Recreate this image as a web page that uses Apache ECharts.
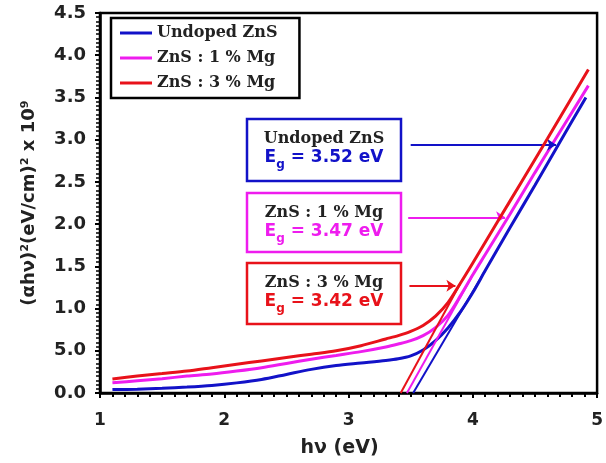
<!DOCTYPE html>
<html>
<head>
<meta charset="utf-8">
<script src="https://cdn.jsdelivr.net/npm/echarts@6/dist/echarts.min.js"></script>
<style>
  html, body { margin: 0; padding: 0; background: #fff; }
  #chart { width: 606px; height: 463px; }
</style>
</head>
<body>
<div id="chart"></div>
<script>
// Tauc plot of ZnS films: (alpha*h*nu)^2 against photon energy h*nu
const sampleNames = ['Undoped ZnS', 'ZnS : 1 % Mg', 'ZnS : 3 % Mg'];
const sampleColors = ['#1212c8', '#ee1cee', '#e8121a'];
const bandGaps = [3.52, 3.47, 3.42];

// [h*nu (eV), (alpha*h*nu)^2 x 1e9]
const undopedCurve = [
  [1.1, 0.04], [1.3, 0.045], [1.5, 0.055], [1.7, 0.07], [1.9, 0.09], [2.1, 0.12],
  [2.3, 0.16], [2.5, 0.22], [2.7, 0.28], [2.9, 0.325], [3.1, 0.355], [3.3, 0.385],
  [3.4, 0.405], [3.5, 0.44], [3.6, 0.51], [3.7, 0.62], [3.8, 0.77], [3.9, 0.96],
  [4.0, 1.19], [4.1, 1.45], [4.3, 1.96], [4.5, 2.46], [4.7, 2.97], [4.91, 3.50]
];
const mg1Curve = [
  [1.1, 0.12], [1.3, 0.145], [1.5, 0.17], [1.7, 0.20], [1.9, 0.225], [2.1, 0.26],
  [2.3, 0.30], [2.5, 0.35], [2.7, 0.40], [2.9, 0.445], [3.1, 0.49], [3.3, 0.545],
  [3.4, 0.58], [3.5, 0.62], [3.6, 0.68], [3.7, 0.775], [3.8, 0.92], [3.9, 1.15],
  [4.0, 1.40], [4.1, 1.64], [4.3, 2.12], [4.5, 2.61], [4.7, 3.09], [4.93, 3.64]
];
const mg3Curve = [
  [1.1, 0.166], [1.3, 0.20], [1.5, 0.23], [1.7, 0.26], [1.9, 0.30], [2.1, 0.34],
  [2.3, 0.38], [2.5, 0.42], [2.7, 0.46], [2.9, 0.50], [3.1, 0.56], [3.3, 0.64],
  [3.4, 0.68], [3.5, 0.73], [3.6, 0.80], [3.7, 0.91], [3.8, 1.07], [3.9, 1.30],
  [4.0, 1.54], [4.2, 2.03], [4.4, 2.52], [4.6, 3.01], [4.93, 3.83]
];
const sampleCurves = [undopedCurve, mg1Curve, mg3Curve];

// upper end of each extrapolated straight line (lower end sits on the band gap)
const tangentTops = [[4.1, 1.45], [4.0, 1.40], [3.9, 1.30]];

// pointer arrows from the band-gap boxes to each curve (data units)
const arrowLevels = [2.94, 2.08, 1.27];
const arrowStartX = [3.50, 3.48, 3.49];
const arrowEndX = [4.67, 4.26, 3.86];

const yTickLabels = ['0.0', '5.0', '1.0', '1.5', '2.0', '2.5', '3.0', '3.5', '4.0', '4.5'];
const boxTitles = ['Undoped ZnS', 'ZnS : 1 % Mg', 'ZnS : 3 % Mg'];

const chart = echarts.init(document.getElementById('chart'), null, { renderer: 'canvas' });

const axisFont = { fontFamily: 'DejaVu Sans', fontWeight: 'bold', color: '#222' };

const series = [];
sampleCurves.forEach((curve, i) => {
  series.push({
    type: 'line',
    name: sampleNames[i],
    data: curve,
    symbol: 'none',
    smooth: 0.3,
    color: sampleColors[i],
    lineStyle: { color: sampleColors[i], width: 3 },
    z: 3 + i
  });
});
bandGaps.forEach((eg, i) => {
  series.push({
    type: 'line',
    name: 'fit-' + i,
    data: [[eg, 0], tangentTops[i]],
    symbol: 'none',
    color: sampleColors[i],
    lineStyle: { color: sampleColors[i], width: 2 },
    z: 6,
    markLine: {
      silent: true,
      symbol: ['none', 'arrow'],
      symbolSize: 9,
      label: { show: false },
      lineStyle: { color: sampleColors[i], width: 2, type: 'solid' },
      data: [[
        { coord: [arrowStartX[i], arrowLevels[i]] },
        { coord: [arrowEndX[i], arrowLevels[i]] }
      ]]
    }
  });
});

// band-gap annotation boxes
const boxTops = [119, 193, 263];
const boxHeights = [62, 59, 61];
const graphics = [];
boxTitles.forEach((title, i) => {
  const top = boxTops[i];
  graphics.push({
    type: 'rect',
    shape: { x: 247, y: top, width: 154, height: boxHeights[i] },
    style: { fill: '#fff', stroke: sampleColors[i], lineWidth: 2.5 },
    z: 20
  });
  graphics.push({
    type: 'text',
    x: 324, y: top + 20,
    style: {
      text: title,
      font: 'bold 16px "DejaVu Serif"',
      fill: '#222',
      align: 'center', verticalAlign: 'middle',
      textAlign: 'center', textVerticalAlign: 'middle'
    },
    z: 21
  });
  graphics.push({
    type: 'text',
    x: 324, y: top + 30,
    style: {
      text: '{e|E}{s|g}{e| = ' + bandGaps[i].toFixed(2) + ' eV}',
      align: 'center', verticalAlign: 'top',
      textAlign: 'center', textVerticalAlign: 'top',
      rich: {
        e: { font: 'bold 17px "DejaVu Sans"', fill: sampleColors[i], lineHeight: 22, verticalAlign: 'top' },
        s: { font: 'bold 12px "DejaVu Sans"', fill: sampleColors[i], lineHeight: 10, verticalAlign: 'bottom' }
      }
    },
    z: 21
  });
});

chart.setOption({
  animation: false,
  backgroundColor: '#fff',
  grid: {
    left: 100, right: 3, top: 13, bottom: 62,
    show: true, borderColor: '#000', borderWidth: 2.5, backgroundColor: 'transparent'
  },
  legend: {
    data: sampleNames,
    orient: 'vertical',
    left: 111, top: 18,
    icon: 'rect',
    itemWidth: 32, itemHeight: 3,
    itemGap: 7,
    padding: [6, 22, 6, 9],
    backgroundColor: '#fff',
    borderColor: '#000', borderWidth: 2.5,
    textStyle: { fontFamily: 'DejaVu Serif', fontWeight: 'bold', fontSize: 16, color: '#222', lineHeight: 18 }
  },
  xAxis: {
    type: 'value',
    min: 1, max: 5, interval: 1,
    name: 'hν (eV)',
    nameLocation: 'middle',
    nameGap: 46,
    nameTextStyle: Object.assign({ fontSize: 19, padding: [0, 18, 0, 0] }, axisFont),
    axisLine: { show: true, onZero: false, lineStyle: { color: '#000', width: 2.5 } },
    axisTick: { show: true, inside: false, length: 5, lineStyle: { color: '#000', width: 2 } },
    minorTick: { show: true, splitNumber: 10, length: 4, lineStyle: { color: '#000', width: 2 } },
    splitLine: { show: false },
    minorSplitLine: { show: false },
    axisLabel: Object.assign({ fontSize: 17, margin: 19 }, axisFont)
  },
  yAxis: {
    type: 'value',
    min: 0, max: 4.5, interval: 0.5,
    name: '(αhν)²(eV/cm)² x 10⁹',
    nameLocation: 'middle',
    nameGap: 62,
    nameTextStyle: Object.assign({ fontSize: 18 }, axisFont),
    axisLine: { show: true, onZero: false, lineStyle: { color: '#000', width: 2.5 } },
    axisTick: { show: true, inside: false, length: 5, lineStyle: { color: '#000', width: 2 } },
    minorTick: { show: true, splitNumber: 10, length: 4, lineStyle: { color: '#000', width: 1.5 } },
    splitLine: { show: false },
    minorSplitLine: { show: false },
    axisLabel: Object.assign({
      fontSize: 18, margin: 14,
      formatter: v => yTickLabels[Math.round(v / 0.5)]
    }, axisFont)
  },
  series: series,
  graphic: graphics
});
</script>
</body>
</html>
